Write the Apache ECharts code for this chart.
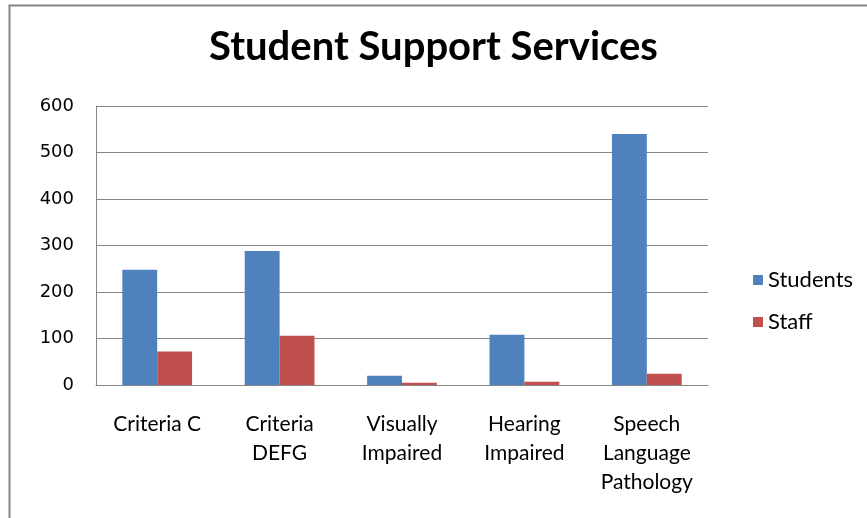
<!DOCTYPE html>
<html><head><meta charset="utf-8">
<script src="https://cdn.jsdelivr.net/npm/echarts@6/dist/echarts.min.js"></script>
<style>html,body{margin:0;padding:0;background:#fff}#c{width:867px;height:518px}</style>
</head><body><div id="c"></div>
<script>
const categories = ["Criteria C", "Criteria\nDEFG", "Visually\nImpaired", "Hearing\nImpaired", "Speech\nLanguage\nPathology"];
const students = [248, 288, 20, 108, 540];
const staff = [72, 106, 5, 7, 24];
const yTicks = [0, 100, 200, 300, 400, 500, 600];

const chart = echarts.init(document.getElementById('c'));
chart.setOption({
  animation: false,
  backgroundColor: '#fff',
  graphic: [{
    type: 'rect', shape: {x: 9.5, y: 5.5, width: 900, height: 600},
    style: {fill: 'none', stroke: '#868686', lineWidth: 2}, silent: true
  }],
  title: {
    text: 'Student Support Services', left: 'center', top: 22,
    textStyle: {fontFamily: 'Lato', fontWeight: 'bold', fontSize: 40, color: '#000'}
  },
  legend: {
    orient: 'vertical', left: 748, top: 264, itemGap: 20,
    itemWidth: 10, itemHeight: 10, icon: 'rect',
    textStyle: {fontFamily: 'Lato', fontSize: 22, color: '#000'},
    data: ['Students', 'Staff']
  },
  grid: {left: 96, right: 159, top: 106, bottom: 133},
  xAxis: {
    type: 'category', data: categories,
    axisLine: {lineStyle: {color: '#868686', width: 1}},
    axisTick: {show: false},
    axisLabel: {fontFamily: 'Lato', fontSize: 21, color: '#000', lineHeight: 29, margin: 25, interval: 0}
  },
  yAxis: {
    type: 'value', min: 0, max: 600, interval: 100,
    axisLine: {show: true, lineStyle: {color: '#868686'}},
    axisTick: {show: false},
    splitLine: {lineStyle: {color: '#868686', width: 1}},
    axisLabel: {fontFamily: 'DejaVu Sans', fontSize: 18, color: '#000', margin: 22,
      formatter: v => yTicks.includes(v) ? String(v) : ''}
  },
  series: [
    {name: 'Students', type: 'bar', data: students, barGap: '0%', barCategoryGap: '43%',
     itemStyle: {color: '#4f81bd'}},
    {name: 'Staff', type: 'bar', data: staff, itemStyle: {color: '#c0504d'}}
  ]
});
</script></body></html>
